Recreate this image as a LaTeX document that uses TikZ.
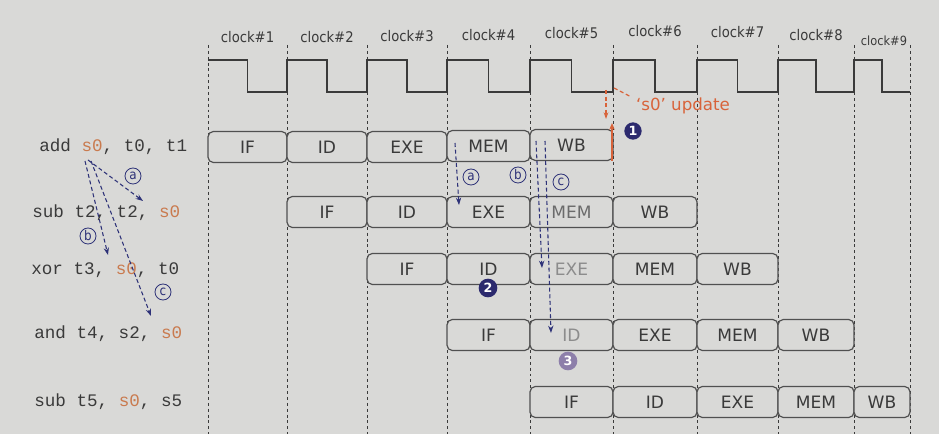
\documentclass[tikz,border=0pt]{standalone}
\usepackage{fontspec}
\setmainfont{DejaVu Sans}
\newfontfamily\condf{DejaVu Sans Condensed}
\newfontfamily\monof{Liberation Mono}
\usetikzlibrary{arrows.meta}
\definecolor{bg}{HTML}{D9D9D7}
\definecolor{ink}{HTML}{3A3A3A}
\definecolor{boxline}{HTML}{505050}
\definecolor{faded}{HTML}{8C8C8C}
\definecolor{sorange}{HTML}{C97A4E}
\definecolor{updred}{HTML}{D8633A}
\definecolor{navy}{HTML}{2E3278}
\definecolor{navyfill}{HTML}{2C2A6E}
\definecolor{lilac}{HTML}{8D7FAA}
\tikzset{
  stage/.style={draw=boxline, line width=0.9pt, rounded corners=4pt, fill=bg,
    inner sep=0pt, outer sep=0pt, minimum height=23.25pt,
    font=\fontsize{12.8}{14}\selectfont},
  clk/.style={text=ink, font=\condf\fontsize{11}{12}\selectfont},
  instr/.style={anchor=west, text=ink, inner sep=0pt, font=\monof\fontsize{13.2}{15}\selectfont},
  wave/.style={draw=ink, line width=0.9pt},
  gridline/.style={draw=ink, line width=0.6pt, dash pattern=on 2.2pt off 2.2pt},
  dep/.style={draw=navy, line width=0.8pt, dash pattern=on 3pt off 2pt, -{Stealth[length=5.5pt,width=4pt]}},
  letter/.style={circle, draw=navy, line width=0.6pt, text=navy, inner sep=0.4pt,
    minimum size=12pt, font=\condf\fontsize{10}{10}\selectfont},
  num/.style={circle, fill=navyfill, text=white, inner sep=0pt, minimum size=13pt,
    font=\bfseries\fontsize{9.5}{10}\selectfont},
  upd/.style={draw=updred, line width=0.9pt},
}
\newcommand\stg[6]{%
  \pgfmathsetmacro\stgw{(#3-#2)*0.75}%
  \pgfmathsetmacro\stgx{(#3+#2)/2}%
  \node[stage, minimum width=\stgw pt, text=#6] (#1) at (\stgx,#4) {#5};}
\begin{document}
\begin{tikzpicture}[x=0.75pt,y=-0.75pt]
\path[use as bounding box, fill=bg] (0,0) rectangle (939,434);

% vertical dashed clock boundaries
\foreach \x in {208,287,367,447,530,613,697,778,854,910}
  \draw[gridline] (\x,45) -- (\x,434);

% clock labels
\node[clk] (k1) at (247.5,37) {clock\#1};
\node[clk] (k2) at (327,37) {clock\#2};
\node[clk] (k3) at (407,36) {clock\#3};
\node[clk] (k4) at (488.5,35) {clock\#4};
\node[clk] (k5) at (571.5,33) {clock\#5};
\node[clk] (k6) at (655,31) {clock\#6};
\node[clk] (k7) at (737.5,32) {clock\#7};
\node[clk] (k8) at (816,35) {clock\#8};
\node[clk, font=\condf\fontsize{9.5}{10}\selectfont] (k9) at (884,41) {clock\#9};

% clock waveform
\draw[wave] (208,60) -- (247.5,60) -- (247.5,92) -- (287,92) -- (287,60)
  -- (327,60) -- (327,92) -- (367,92) -- (367,60) -- (407,60) -- (407,92)
  -- (447,92) -- (447,60) -- (488.5,60) -- (488.5,92) -- (530,92) -- (530,60)
  -- (571.5,60) -- (571.5,92) -- (613,92) -- (613,60) -- (655,60) -- (655,92)
  -- (697,92) -- (697,60) -- (737.5,60) -- (737.5,92) -- (778,92) -- (778,60)
  -- (816,60) -- (816,92) -- (854,92) -- (854,60) -- (882,60) -- (882,92) -- (910,92);

% instructions
\node[instr] (i1) at (39,147) {add \textcolor{sorange}{s0}, t0, t1};
\node[instr] (i2) at (32,213) {sub t2, t2, \textcolor{sorange}{s0}};
\node[instr] (i3) at (31,270) {xor t3, \textcolor{sorange}{s0}, t0};
\node[instr] (i4) at (34,334) {and t4, s2, \textcolor{sorange}{s0}};
\node[instr] (i5) at (34,402) {sub t5, \textcolor{sorange}{s0}, s5};

% pipeline stages
\stg{a1}{208}{287}{147}{IF}{ink}
\stg{a2}{287}{367}{147}{ID}{ink}
\stg{a3}{367}{447}{147}{EXE}{ink}
\stg{a4}{447}{530}{146}{MEM}{ink}
\stg{a5}{530}{613}{145}{WB}{ink}

\stg{b1}{287}{367}{212}{IF}{ink}
\stg{b2}{367}{447}{212}{ID}{ink}
\stg{b3}{447}{530}{212}{EXE}{ink}
\stg{b4}{530}{613}{212}{MEM}{ink!75}
\stg{b5}{613}{697}{212}{WB}{ink}

\stg{c1}{367}{447}{269}{IF}{ink}
\stg{c2}{447}{530}{269}{ID}{ink}
\stg{c3}{530}{613}{269}{EXE}{faded}
\stg{c4}{613}{697}{269}{MEM}{ink}
\stg{c5}{697}{778}{269}{WB}{ink}

\stg{d1}{447}{530}{335}{IF}{ink}
\stg{d2}{530}{613}{335}{ID}{faded}
\stg{d3}{613}{697}{335}{EXE}{ink}
\stg{d4}{697}{778}{335}{MEM}{ink}
\stg{d5}{778}{854}{335}{WB}{ink}

\stg{e1}{530}{613}{402}{IF}{ink}
\stg{e2}{613}{697}{402}{ID}{ink}
\stg{e3}{697}{778}{402}{EXE}{ink}
\stg{e4}{778}{854}{402}{MEM}{ink}
\stg{e5}{854}{910}{402}{WB}{ink}

% dependency arrows on the left
\coordinate (sA) at (88,160);
\coordinate (sB) at (85,161);
\coordinate (sC) at (91,161);
\coordinate (tA) at (143,201);
\coordinate (tB) at (108,255);
\coordinate (tC) at (151,316);
\draw[dep] (sA) -- (tA);
\draw[dep] (sB) -- (tB);
\draw[dep] (sC) -- (tC);
\node[letter] (la) at (133,176) {a};
\node[letter] (lb) at (88,236) {b};
\node[letter] (lc) at (163,292) {c};

% dependency arrows in the pipeline
\coordinate (mA) at (455,143);
\coordinate (nA) at (459,205);
\coordinate (mB) at (536,141);
\coordinate (nB) at (542,268);
\coordinate (mC) at (545,141);
\coordinate (nC) at (551,333);
\draw[dep] (mA) -- (nA);
\draw[dep] (mB) -- (nB);
\draw[dep] (mC) -- (nC);
\node[letter] (pa) at (471,177) {a};
\node[letter] (pb) at (518,175) {b};
\node[letter] (pc) at (561,182) {c};

% s0 update
\node[text=updred, font=\fontsize{12.5}{14}\selectfont] (upd) at (683,106) {‘s0’ update};
\coordinate (ua) at (614,88);
\coordinate (ub) at (606,90);
\coordinate (uc) at (606,119);
\coordinate (ud) at (612,161);
\coordinate (ue) at (612,123);
\draw[upd, dash pattern=on 3pt off 2pt] (upd.west) ++(-2,-10) -- (ua);
\draw[upd, dash pattern=on 3pt off 2pt, -{Stealth[length=5pt,width=3.5pt]}] (ub) -- (uc);
\draw[upd, -{Stealth[length=5pt,width=4pt]}] (ud) -- (ue);

% numbered markers
\node[num] (n1) at (633,131) {1};
\node[num, minimum size=14pt] (n2) at (488,288) {2};
\node[num, minimum size=14pt, fill=lilac] (n3) at (568,361) {3};
\end{tikzpicture}
\end{document}
